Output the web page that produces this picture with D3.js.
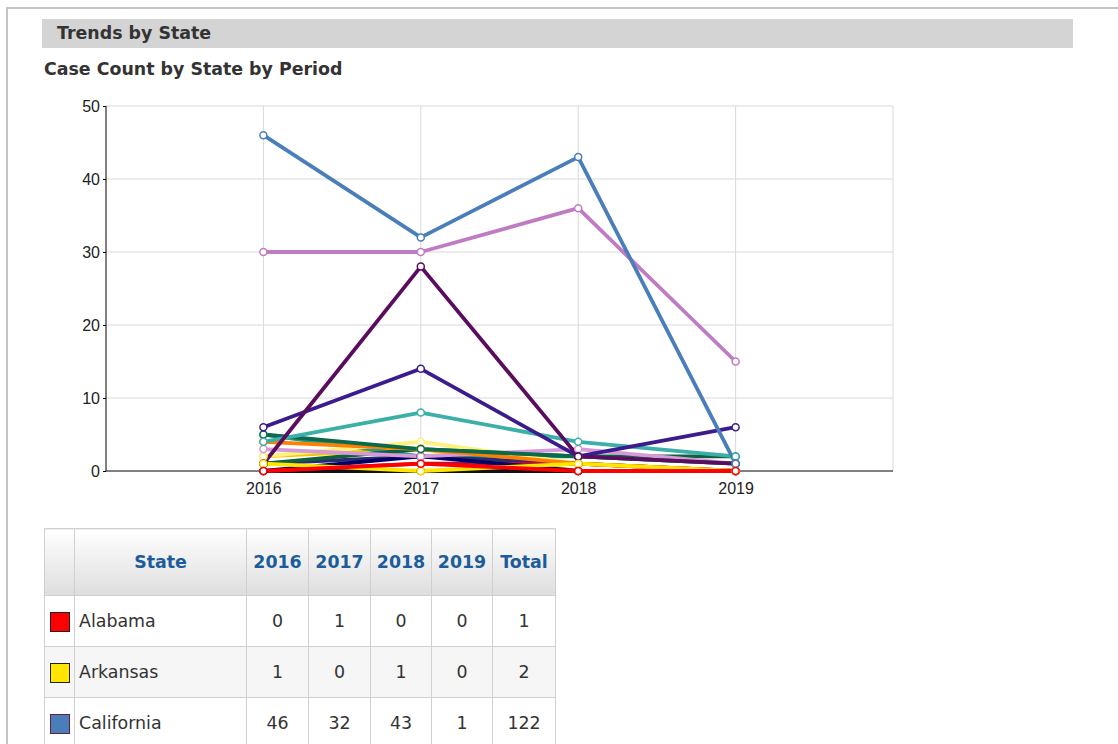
<!DOCTYPE html>
<html>
<head>
<meta charset="utf-8">
<script src="https://cdn.jsdelivr.net/npm/d3@7"></script>
<style>
  body { margin: 0; background: #fff; font-family: "DejaVu Sans", Verdana, sans-serif; }
  #frame { position: absolute; left: 6px; top: 7px; width: 1200px; height: 800px;
           border-top: 2px solid #c4c4c4; border-left: 2px solid #c4c4c4; }
  #bar { position: absolute; left: 42px; top: 19px; width: 1031px; height: 29px; background: #d4d4d4; }
  #bar span { position: absolute; left: 15px; top: 4px; font-weight: bold; font-size: 17.4px; color: #333; }
  #sub { position: absolute; left: 44px; top: 59px; font-weight: bold; font-size: 17.4px; color: #333; }
  #chart { position: absolute; left: 0; top: 0; }
  table { position: absolute; left: 44px; top: 528px; border-collapse: collapse; font-size: 17.4px; color: #333; }
  td, th { border: 1px solid #d0d0d0; padding: 0; }
  th { height: 66px; background: linear-gradient(#ffffff, #dedede); color: #1d5c9a; font-size: 17.4px; }
  td { height: 50px; text-align: center; }
  td.name { text-align: left; padding-left: 4px; }
  tr.alt td { background: #f6f6f6; }
  .sw { display: inline-block; width: 18px; height: 18px; border: 1px solid #222; vertical-align: middle; }
</style>
</head>
<body>
<div id="frame"></div>
<div id="bar"><span>Trends by State</span></div>
<div id="sub">Case Count by State by Period</div>
<svg id="chart" width="1118" height="520"></svg>
<script>
// periods and state series
const periods = [2016, 2017, 2018, 2019];
const yTicks = [0, 10, 20, 30, 40, 50];

const states = ['Alabama', 'Arkansas', 'California', 'Colorado', 'Florida', 'Georgia',
  'Illinois', 'Indiana', 'Kentucky', 'Louisiana', 'Maryland', 'Michigan',
  'Missouri', 'New Jersey', 'New York', 'Ohio', 'Oregon', 'Texas'];
const colors = ['#ff0000', '#ffe600', '#4a7ebb', '#c07cc2', '#5a0c5e', '#3c1c8c',
  '#3cb0a8', '#0c6a4c', '#ff8000', '#d69ad6', '#000066', '#106040',
  '#b01040', '#101010', '#2a2a70', '#fff27a', '#2a9a8e', '#f0c800'];
const swatchBorders = ['#222', '#222', '#602040'];
const counts = [
  [0, 1, 0, 0],
  [1, 0, 1, 0],
  [46, 32, 43, 1],
  [30, 30, 36, 15],
  [1, 28, 2, 1],
  [6, 14, 2, 6],
  [4, 8, 4, 2],
  [5, 3, 2, 1],
  [4, 3, 1, 0],
  [3, 2, 3, 1],
  [0, 2, 0, 0],
  [1, 3, 2, 2],
  [0, 1, 1, 0],
  [0, 0, 0, 0],
  [1, 2, 1, 0],
  [2, 4, 1, 0],
  [5, 2, 2, 1],
  [2, 3, 0, 0]
];

const margin = { left: 106, top: 106, right: 225, bottom: 49 };
const width = 1118 - margin.left - margin.right;
const height = 520 - margin.top - margin.bottom;

const svg = d3.select('#chart');
const g = svg.append('g').attr('transform', `translate(${margin.left},${margin.top})`);

const x = d3.scaleLinear().domain([2015, 2020]).range([0, width]);
const y = d3.scaleLinear().domain([0, 50]).range([height, 0]);

// grid
g.selectAll('.hg').data(yTicks.slice(1)).join('line')
  .attr('x1', 0).attr('x2', width).attr('y1', d => y(d)).attr('y2', d => y(d))
  .attr('stroke', '#d9d9d9');
g.selectAll('.vg').data(periods.concat([2020])).join('line')
  .attr('x1', d => x(d)).attr('x2', d => x(d)).attr('y1', 0).attr('y2', height)
  .attr('stroke', '#d9d9d9');

// axes
const yAxis = g.append('g')
  .call(d3.axisLeft(y).tickValues(yTicks).tickSize(3).tickPadding(3));
yAxis.select('.domain').attr('d', `M0,0V${height}`);
yAxis.selectAll('text').attr('font-family', '"Liberation Sans", Arial, sans-serif')
  .attr('font-size', 16).attr('fill', '#222');

const xAxis = g.append('g').attr('transform', `translate(0,${height})`)
  .call(d3.axisBottom(x).tickValues(periods).tickFormat(d3.format('d')).tickSize(0).tickPadding(12));
xAxis.select('.domain').attr('d', `M0,0H${width}`);
xAxis.selectAll('text').attr('font-family', '"Liberation Sans", Arial, sans-serif')
  .attr('font-size', 16).attr('fill', '#222');

// lines
const line = d3.line().x((d, i) => x(periods[i])).y(d => y(d));
const series = states.map((s, i) => ({ name: s, color: colors[i], values: counts[i] }));
const order = series.slice().reverse();

g.selectAll('.ln').data(order).join('path')
  .attr('d', d => line(d.values))
  .attr('fill', 'none').attr('stroke', d => d.color).attr('stroke-width', 3.8)
  .attr('stroke-linejoin', 'round');

order.forEach(s => {
  g.selectAll(null).data(s.values).join('circle')
    .attr('cx', (d, i) => x(periods[i])).attr('cy', d => y(d)).attr('r', 3.5)
    .attr('fill', '#fff').attr('stroke', s.color).attr('stroke-width', 1.5);
});

// table
const table = d3.select('body').append('table');
const head = table.append('tr');
const colW = [30, 172, 62, 62, 61, 61, 63];
['', 'State'].concat(periods.map(String), ['Total']).forEach((t, i) => {
  head.append('th').style('width', (colW[i] - 1) + 'px').text(t);
});
series.slice(0, 3).forEach((s, i) => {
  const tr = table.append('tr').attr('class', i % 2 ? 'alt' : null);
  tr.append('td').append('span').attr('class', 'sw')
    .style('background', s.color).style('border-color', swatchBorders[i]);
  tr.append('td').attr('class', 'name').text(s.name);
  s.values.forEach(v => tr.append('td').text(v));
  tr.append('td').text(d3.sum(s.values));
});
</script>
</body>
</html>
